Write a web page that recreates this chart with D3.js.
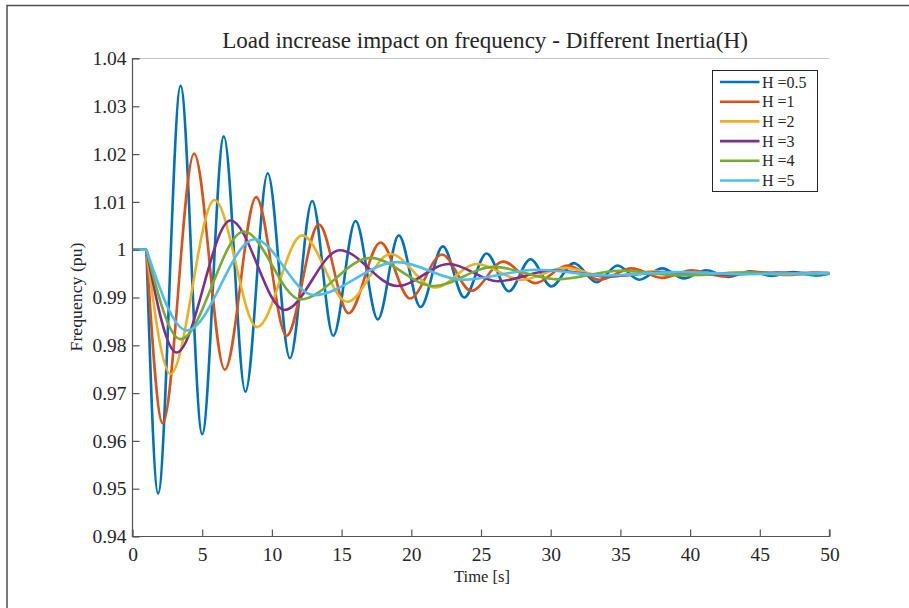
<!DOCTYPE html>
<html>
<head>
<meta charset="utf-8">
<script src="https://cdn.jsdelivr.net/npm/d3@7"></script>
<style>
  html, body { margin: 0; padding: 0; background: #fff; }
  svg { display: block; }
  text { font-family: "Liberation Serif", "DejaVu Serif", serif; fill: #262626; }
</style>
</head>
<body>
<svg id="chart" width="909" height="608"></svg>
<script>
// Frequency response (pu) after a load step at t = 1 s, one series per inertia constant H.
// Each series is a list of [time (s), frequency (pu)] points at its turning points.
const H05 = [[0,1],[1,1],[1.84,0.9490],[3.45,1.0343],[5.0,0.9614],[6.55,1.0237],[8.1,0.9703],[9.7,1.0160],
  [11.29,0.9773],[12.89,1.0102],[14.4,0.9820],[16.0,1.0060],[17.6,0.9854],[19.1,1.0030],[20.66,0.9880],
  [22.26,1.0007],[23.8,0.9900],[25.4,0.9992],[27.0,0.9913],[28.55,0.9980],[30.05,0.9923],[31.66,0.9972],
  [33.3,0.9932],[34.8,0.9967],[36.35,0.9937],[38.0,0.9961],[39.55,0.9940],[41.15,0.9957],[42.75,0.9943],
  [44.3,0.9955],[45.85,0.9945],[47.4,0.9953],[48.95,0.9946],[50,0.9950]];
const H1 = [[0,1],[1,1],[2.17,0.9637],[4.42,1.0201],[6.62,0.9749],[8.87,1.0110],[11.05,0.9820],[13.37,1.0053],
  [15.5,0.9867],[17.79,1.0015],[19.9,0.9898],[22.2,0.9990],[24.3,0.9914],[26.6,0.9975],[28.9,0.9930],
  [31.2,0.9967],[33.5,0.9937],[35.8,0.9961],[38.0,0.9941],[40.1,0.9957],[42.4,0.9944],[44.6,0.9954],
  [46.9,0.9947],[49.1,0.9952],[50,0.9951]];
const H2 = [[0,1],[1,1],[2.73,0.9740],[5.88,1.0104],[8.94,0.9838],[12.17,1.0030],[15.4,0.9891],[18.5,0.9991],
  [21.7,0.9921],[24.7,0.9970],[27.9,0.9937],[31.0,0.9962],[34.1,0.9943],[37.3,0.9955],[40.4,0.9947],
  [43.5,0.9952],[46.7,0.9949],[50,0.9951]];
const H3 = [[0,1],[1,1],[3.16,0.9785],[7.03,1.0061],[10.9,0.9874],[14.87,0.9999],[19.0,0.9924],[22.7,0.9970],
  [26.2,0.9934],[30.2,0.9957],[34.2,0.9944],[38.2,0.9953],[42.2,0.9948],[46.2,0.9952],[50,0.9950]];
const H4 = [[0,1],[1,1],[3.44,0.9813],[7.99,1.0038],[12.05,0.9896],[17.07,0.9983],[21.6,0.9924],[25.9,0.9964],
  [30.45,0.9938],[35.0,0.9956],[39.5,0.9946],[44.0,0.9952],[48.5,0.9949],[50,0.9950]];
const H5 = [[0,1],[1,1],[3.92,0.9831],[8.75,1.0022],[13.0,0.9905],[18.99,0.9974],[23.7,0.9937],[29.0,0.9958],
  [34.0,0.9946],[39.0,0.9953],[44.0,0.9949],[50,0.9951]];

const seriesLabels = ["H =0.5", "H =1", "H =2", "H =3", "H =4", "H =5"];
const seriesData = [H05, H1, H2, H3, H4, H5];
const seriesColors = ["#0072BD", "#D95319", "#EDB120", "#7E2F8E", "#77AC30", "#4DBEEE"];

const xTicks = [0, 5, 10, 15, 20, 25, 30, 35, 40, 45, 50];
const yTicks = [0.94, 0.95, 0.96, 0.97, 0.98, 0.99, 1.00, 1.01, 1.02, 1.03, 1.04];
const yTickLabels = ["0.94", "0.95", "0.96", "0.97", "0.98", "0.99", "1", "1.01", "1.02", "1.03", "1.04"];

const titleText = "Load increase impact on frequency - Different Inertia(H)";
const xLabelText = "Time [s]";
const yLabelText = "Frequency (pu)";

// ---- layout ----
const plot = { left: 132.5, right: 829.5, top: 58.5, bottom: 536.5 };

const svg = d3.select("#chart");

// outer frame of the figure window
svg.append("path")
  .attr("d", "M7,612 L7,5.5 L912,5.5")
  .attr("fill", "none")
  .attr("stroke", "#4d4d4d")
  .attr("stroke-width", 1.5);

const x = d3.scaleLinear().domain([0, 50]).range([plot.left, plot.right]);
const y = d3.scaleLinear().domain([0.94, 1.04]).range([plot.bottom, plot.top]);

// fit a text element's font size so that it spans the given width
function fitWidth(sel, width, base) {
  sel.style("font-size", base + "px");
  const w = sel.node().getComputedTextLength();
  sel.style("font-size", (base * width / w).toFixed(2) + "px");
}

// top edge of the axes box
svg.append("line")
  .attr("x1", plot.left).attr("x2", plot.right)
  .attr("y1", plot.top).attr("y2", plot.top)
  .attr("stroke", "#c8c8c8").attr("stroke-width", 1);

// series
const flatLine = d3.line().x(d => x(d[0])).y(d => y(d[1]));
const curveLine = d3.line().x(d => x(d[0])).y(d => y(d[1])).curve(d3.curveMonotoneX);

const gLines = svg.append("g").attr("class", "series");
seriesData.forEach((pts, i) => {
  // steady state before the step, then the response from the step onward
  const d = flatLine(pts.slice(0, 2)) + curveLine(pts.slice(1));
  gLines.append("path")
    .attr("d", d)
    .attr("fill", "none")
    .attr("stroke", seriesColors[i])
    .attr("stroke-width", 2.6)
    .attr("stroke-linejoin", "round")
    .attr("stroke-linecap", "butt");
});

// x axis (ticks point inward)
const xAxis = d3.axisBottom(x).tickValues(xTicks).tickSize(-7).tickPadding(11).tickFormat(d3.format("d"));
const gx = svg.append("g").attr("transform", `translate(0,${plot.bottom})`).call(xAxis);
gx.select(".domain").attr("d", `M${plot.left},-7V0H${plot.right}V-7`).attr("stroke", "#555").attr("stroke-width", 1.2);
gx.selectAll(".tick line").attr("stroke", "#555").attr("stroke-width", 1.2);
gx.selectAll(".tick text").style("font-family", "Liberation Serif").style("font-size", "19.5px").attr("fill", "#262626");

// y axis
const yAxis = d3.axisLeft(y).tickValues(yTicks).tickSize(-7).tickPadding(6)
  .tickFormat((d, i) => yTickLabels[i]);
const gy = svg.append("g").attr("transform", `translate(${plot.left},0)`).call(yAxis);
gy.select(".domain").attr("d", `M7,${plot.top}H0V${plot.bottom}H7`).attr("stroke", "#555").attr("stroke-width", 1.2);
gy.selectAll(".tick line").attr("stroke", "#555").attr("stroke-width", 1.2);
gy.selectAll(".tick text").style("font-family", "Liberation Serif").style("font-size", "19.5px").attr("fill", "#262626");

// title and axis labels
const title = svg.append("text")
  .attr("x", 485).attr("y", 48)
  .attr("text-anchor", "middle")
  .text(titleText);
fitWidth(title, 526, 19);

const xl = svg.append("text")
  .attr("x", 482).attr("y", 582)
  .attr("text-anchor", "middle")
  .text(xLabelText);
fitWidth(xl, 56, 16);

const yl = svg.append("text")
  .attr("transform", "translate(82,297) rotate(-90)")
  .attr("text-anchor", "middle")
  .text(yLabelText);
fitWidth(yl, 109, 15);

// legend
const leg = { x: 712.5, y: 70.5, w: 105, h: 121, row: 19.7, first: 82 };
const gLeg = svg.append("g").attr("class", "legend");
gLeg.append("rect")
  .attr("x", leg.x).attr("y", leg.y).attr("width", leg.w).attr("height", leg.h)
  .attr("fill", "#fff").attr("stroke", "#262626").attr("stroke-width", 1);
seriesLabels.forEach((lab, i) => {
  const cy = leg.first + i * leg.row;
  gLeg.append("line")
    .attr("x1", 720).attr("x2", 759.5).attr("y1", cy).attr("y2", cy)
    .attr("stroke", seriesColors[i]).attr("stroke-width", 2.6);
  gLeg.append("text")
    .attr("x", 762).attr("y", cy + 5.5)
    .style("font-size", "16px")
    .text(lab);
});
</script>
</body>
</html>
